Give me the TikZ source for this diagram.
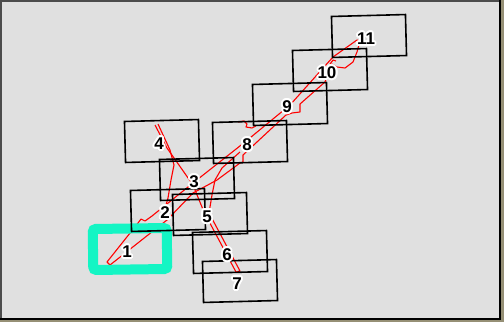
\documentclass[tikz,border=0pt]{standalone}
\usepackage{fontspec}
\setmainfont{Liberation Sans}
\usepackage{contour}
\contourlength{1.9pt}
\usetikzlibrary{positioning}

\definecolor{mapgray}{RGB}{224,224,224}
\definecolor{edgekhaki}{RGB}{150,144,118}
\definecolor{pickcyan}{RGB}{20,245,196}

\begin{document}
\begin{tikzpicture}[
    x=1pt, y=-1pt,
    tile/.style={draw, rectangle, line width=1.6pt, minimum width=74pt, minimum height=41pt, inner sep=0pt, rotate=1.5},
    pick/.style={draw=pickcyan, rectangle, line width=10pt, rounded corners=3pt, minimum width=74pt, minimum height=41pt, inner sep=0pt, rotate=0.8},
    road/.style={draw=red, line width=1.1pt, line join=round},
    num/.style={font=\fontsize{17}{17}\selectfont\bfseries, inner sep=0pt}
  ]
  \useasboundingbox (0,0) rectangle (504,322);
  % map background
  \fill[edgekhaki] (0,0) rectangle (504,322);
  \fill[mapgray] (0,0) rectangle (500,319);
  \draw[line width=2pt, black!70] (0,1) -- (500,1);
  \draw[line width=1.5pt, black!70] (0.75,0) -- (0.75,319);
  \draw[line width=2pt] (0,319) -- (500,319) -- (500,0);

  % roads
  \draw[road] (107,262) -- (138,223) -- (141,219) -- (145,221) -- (152,216) -- (193,183)
    -- (245,142) -- (290,105) -- (333,57) -- (357,40) -- (360,41) -- (357,52) -- (353,62)
    -- (345,68) -- (337,67) -- (332,64) -- (325,82) -- (300,104) -- (300,112) -- (292,113)
    -- (286,115) -- (243,155) -- (243,162) -- (240,163) -- (217,180) -- (193,193)
    -- (167,220) -- (110,265) -- cycle;
  \draw[road] (238,122) -- (244,121) -- (247,124) -- (246,127) -- (252,128) -- (256,126);
  \draw[road] (330,64) -- (333,60) -- (336,61);
  \draw[road] (155,125) -- (167,148) -- (193,185) -- (204,212) -- (236,272) -- (240,271)
    -- (209,213) -- (212,195) -- (215,180) -- (222,168) -- (240,152);
  \draw[road] (158,124) -- (170,150) -- (174,165) -- (171,180) -- (168,198) -- (166,205)
    -- (160,210);

  % footprints
  \node[pick] (box1) at (130,249) {};
  \foreach \n/\x/\y in {2/168/210, 3/197/179, 4/162/141, 5/210/214, 6/230/252,
      7/240/281, 8/250/142, 9/290/104, 10/330/70, 11/369/36}
    \node[tile] (box\n) at (\x,\y) {};

  % numbers
  \foreach \n in {1,...,11}
    \node[num] (num\n) at ([shift={(-3,3.5)}]box\n.center) {\contour{white}{\n}};
\end{tikzpicture}
\end{document}
